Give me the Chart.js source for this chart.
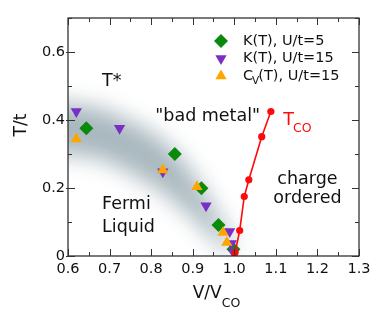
<!DOCTYPE html>
<html>
<head>
<meta charset="utf-8">
<script src="https://cdn.jsdelivr.net/npm/chart.js@4/dist/chart.umd.min.js"></script>
<style>
html,body{margin:0;padding:0;background:#fff;}
canvas{display:block;}
</style>
</head>
<body>
<canvas id="c" width="382" height="322"></canvas>
<script>
// ---- data ----
const kU5_V   = [0.644, 0.857, 0.921, 0.962, 0.998];
const kU5_T   = [0.376, 0.300, 0.199, 0.091, 0.020];
const kU15_V  = [0.620, 0.724, 0.828, 0.932, 0.989, 0.993, 0.998];
const kU15_T  = [0.425, 0.376, 0.248, 0.148, 0.072, 0.037, 0.010];
const cvU15_V = [0.620, 0.828, 0.910, 0.973, 0.982];
const cvU15_T = [0.344, 0.253, 0.204, 0.069, 0.040];
const tco_V   = [1.002, 1.013, 1.024, 1.035, 1.066, 1.088];
const tco_T   = [0.010, 0.075, 0.175, 0.224, 0.351, 0.425];

// crossover band (T*) in data units
const bandUpperV = [0.45, 0.60, 0.66, 0.72, 0.80, 0.86, 0.91, 0.95, 0.98, 1.00];
const bandUpperT = [0.45, 0.45, 0.44, 0.415, 0.365, 0.305, 0.225, 0.145, 0.075, 0.025];
const bandLowerV = [1.00, 0.97, 0.93, 0.88, 0.82, 0.75, 0.68, 0.60, 0.45];
const bandLowerT = [0.00, 0.025, 0.075, 0.135, 0.195, 0.245, 0.285, 0.30, 0.30];

const xTickLabels = ['0.6','0.7','0.8','0.9','1.0','1.1','1.2','1.3'];
const yTickLabels = ['0','0.2','0.4','0.6'];

const legendLabels = [
  {main:'K(T), U/t=5'},
  {main:'K(T), U/t=15'},
  {pre:'C', sub:'V', main:'(T), U/t=15'}
];

const FONT = '"DejaVu Sans", sans-serif';
const pts = (xs, ys) => xs.map((x, i) => ({x, y: ys[i]}));

const GREEN = '#0a8a0a', PURPLE = '#7a2fc4', ORANGE = '#ffa500', RED = '#ff0a0a';

const datasets = [
  {label:'K(T), U/t=5', data: pts(kU5_V, kU5_T), pointStyle:'rectRot', pointRadius:7,
   backgroundColor:GREEN, borderColor:GREEN, borderWidth:0, showLine:false, order:3},
  {label:'K(T), U/t=15', data: pts(kU15_V, kU15_T), pointStyle:'triangle', rotation:180, pointRadius:6.5,
   backgroundColor:PURPLE, borderColor:PURPLE, borderWidth:0, showLine:false, order:2},
  {label:'Cv(T), U/t=15', data: pts(cvU15_V, cvU15_T), pointStyle:'triangle', pointRadius:6.5,
   backgroundColor:ORANGE, borderColor:ORANGE, borderWidth:0, showLine:false, order:1},
  {label:'Tco', data: pts(tco_V, tco_T), pointStyle:'circle', pointRadius:3.6,
   backgroundColor:RED, borderColor:RED, borderWidth:1.6, pointBorderWidth:0, showLine:true, order:0}
];

function fmtX(v){ const r = Math.round(v*100)/100; const s = r.toFixed(1);
  return (Math.abs(r*10 - Math.round(r*10)) < 1e-6 && xTickLabels.includes(s)) ? s : ''; }
function fmtY(v){ const r = Math.round(v*100)/100;
  const s = r === 0 ? '0' : r.toFixed(1);
  return yTickLabels.includes(s) ? s : ''; }

const decor = {
  id:'decor',
  beforeDatasetsDraw(chart){
    const {ctx, chartArea:a, scales:{x, y}} = chart;
    ctx.save();
    ctx.beginPath();
    ctx.rect(a.left, a.top, a.right-a.left, a.bottom-a.top);
    ctx.clip();
    ctx.filter = 'blur(11px)';
    ctx.fillStyle = '#a9b8bf';
    ctx.beginPath();
    bandUpperV.forEach((v,i)=>{ const px=x.getPixelForValue(v), py=y.getPixelForValue(bandUpperT[i]);
      i?ctx.lineTo(px,py):ctx.moveTo(px,py); });
    bandLowerV.forEach((v,i)=>{ ctx.lineTo(x.getPixelForValue(v), y.getPixelForValue(bandLowerT[i])); });
    ctx.closePath();
    ctx.fill();
    ctx.restore();
  },
  afterDraw(chart){
    const {ctx, chartArea:a, scales:{x, y}} = chart;
    ctx.save();
    // frame
    ctx.strokeStyle = '#222';
    ctx.lineWidth = 1.2;
    ctx.strokeRect(a.left, a.top, a.right-a.left, a.bottom-a.top);
    // tick marks
    ctx.lineWidth = 1;
    ctx.strokeStyle = '#333';
    ctx.beginPath();
    x.ticks.forEach(t=>{
      const px = Math.round(x.getPixelForValue(t.value))+0.5;
      const major = fmtX(t.value) !== '';
      const L = major ? 7 : 4;
      ctx.moveTo(px, a.bottom); ctx.lineTo(px, a.bottom-L);
      ctx.moveTo(px, a.top); ctx.lineTo(px, a.top+L);
    });
    y.ticks.forEach(t=>{
      const py = Math.round(y.getPixelForValue(t.value))+0.5;
      const major = fmtY(t.value) !== '';
      const L = major ? 7 : 4;
      ctx.moveTo(a.left-(major?2:0), py); ctx.lineTo(a.left+L, py);
      ctx.moveTo(a.right, py); ctx.lineTo(a.right-L, py);
    });
    ctx.stroke();

    // axis titles
    ctx.fillStyle = '#111';
    ctx.textBaseline = 'alphabetic';
    ctx.font = '17px ' + FONT;
    const w1 = ctx.measureText('V/V').width;
    ctx.font = '12.5px ' + FONT;
    const w2 = ctx.measureText('CO').width;
    const xc = (a.left + a.right)/2;
    let sx = xc - (w1+w2)/2 + 3;
    ctx.font = '17px ' + FONT; ctx.textAlign='left';
    ctx.fillText('V/V', sx, 298);
    ctx.font = '12.5px ' + FONT;
    ctx.fillText('CO', sx+w1, 307);
    ctx.save();
    ctx.translate(26, (a.top+a.bottom)/2 - 12);
    ctx.rotate(-Math.PI/2);
    ctx.font = '17px ' + FONT; ctx.textAlign = 'center';
    ctx.fillText('T/t', 0, 0);
    ctx.restore();

    // annotations (positioned in data space)
    const txt = (s, v, t, align, size, color) => {
      ctx.font = size + 'px ' + FONT; ctx.textAlign = align; ctx.fillStyle = color || '#111';
      ctx.textBaseline = 'middle';
      ctx.fillText(s, x.getPixelForValue(v), y.getPixelForValue(t));
    };
    txt('T*', 0.682, 0.512, 'left', 17.5);
    txt('"bad metal"', 0.936, 0.409, 'center', 17.5);
    txt('charge', 1.176, 0.224, 'center', 17.5);
    txt('ordered', 1.176, 0.169, 'center', 17.5);
    txt('Fermi', 0.682, 0.153, 'left', 17.5);
    txt('Liquid', 0.682, 0.085, 'left', 17.5);
    ctx.textBaseline = 'alphabetic'; ctx.textAlign = 'left'; ctx.fillStyle = RED;
    const tx = x.getPixelForValue(1.118), ty = y.getPixelForValue(0.385);
    ctx.font = '17.5px ' + FONT;
    ctx.fillText('T', tx, ty);
    const tw = ctx.measureText('T').width;
    ctx.font = '12.5px ' + FONT;
    ctx.fillText('CO', tx+tw-1, ty+7);

    // legend
    const rowsY = [41, 58.5, 76];
    const mx = 221, lx = 243;
    const dsStyles = chart.data.datasets;
    rowsY.forEach((ry, i) => {
      const ds = dsStyles[i];
      ctx.fillStyle = ds.backgroundColor; ctx.strokeStyle = ds.borderColor;
      Chart.helpers.drawPoint(ctx, {pointStyle: ds.pointStyle, rotation: ds.rotation||0,
        radius: ds.pointRadius, borderWidth: 0}, mx, ry);
      ctx.fillStyle = '#111'; ctx.textAlign = 'left'; ctx.textBaseline = 'middle';
      const L = legendLabels[i];
      let cx = lx;
      if (L.pre) {
        ctx.font = '14.5px ' + FONT; ctx.fillText(L.pre, cx, ry);
        cx += ctx.measureText(L.pre).width;
        ctx.font = '10.5px ' + FONT; ctx.fillText(L.sub, cx-1, ry+5);
        cx += ctx.measureText(L.sub).width - 2;
      }
      ctx.font = '14.5px ' + FONT; ctx.fillText(L.main, cx, ry);
    });
    ctx.restore();
  }
};

new Chart(document.getElementById('c'), {
  type: 'scatter',
  data: { datasets },
  options: {
    responsive: false,
    animation: false,
    devicePixelRatio: 1,
    layout: { padding: { left: 0, top: 18, right: 23, bottom: 16 } },
    plugins: { legend: { display: false }, tooltip: { enabled: false } },
    scales: {
      x: {
        type: 'linear', min: 0.6, max: 1.3,
        afterFit: s => { s.height = 50; },
        grid: { display: false, drawTicks: false },
        border: { display: false },
        ticks: { stepSize: 0.05, autoSkip: false, maxRotation: 0, padding: 5,
          color: '#111', font: { family: FONT, size: 14.5 }, callback: v => fmtX(v) }
      },
      y: {
        type: 'linear', min: 0, max: 0.7,
        afterFit: s => { s.width = 68; },
        grid: { display: false, drawTicks: false },
        border: { display: false },
        ticks: { stepSize: 0.1, autoSkip: false, padding: 3,
          color: '#111', font: { family: FONT, size: 14.5 }, callback: v => fmtY(v) }
      }
    }
  },
  plugins: [decor]
});
</script>
</body>
</html>
